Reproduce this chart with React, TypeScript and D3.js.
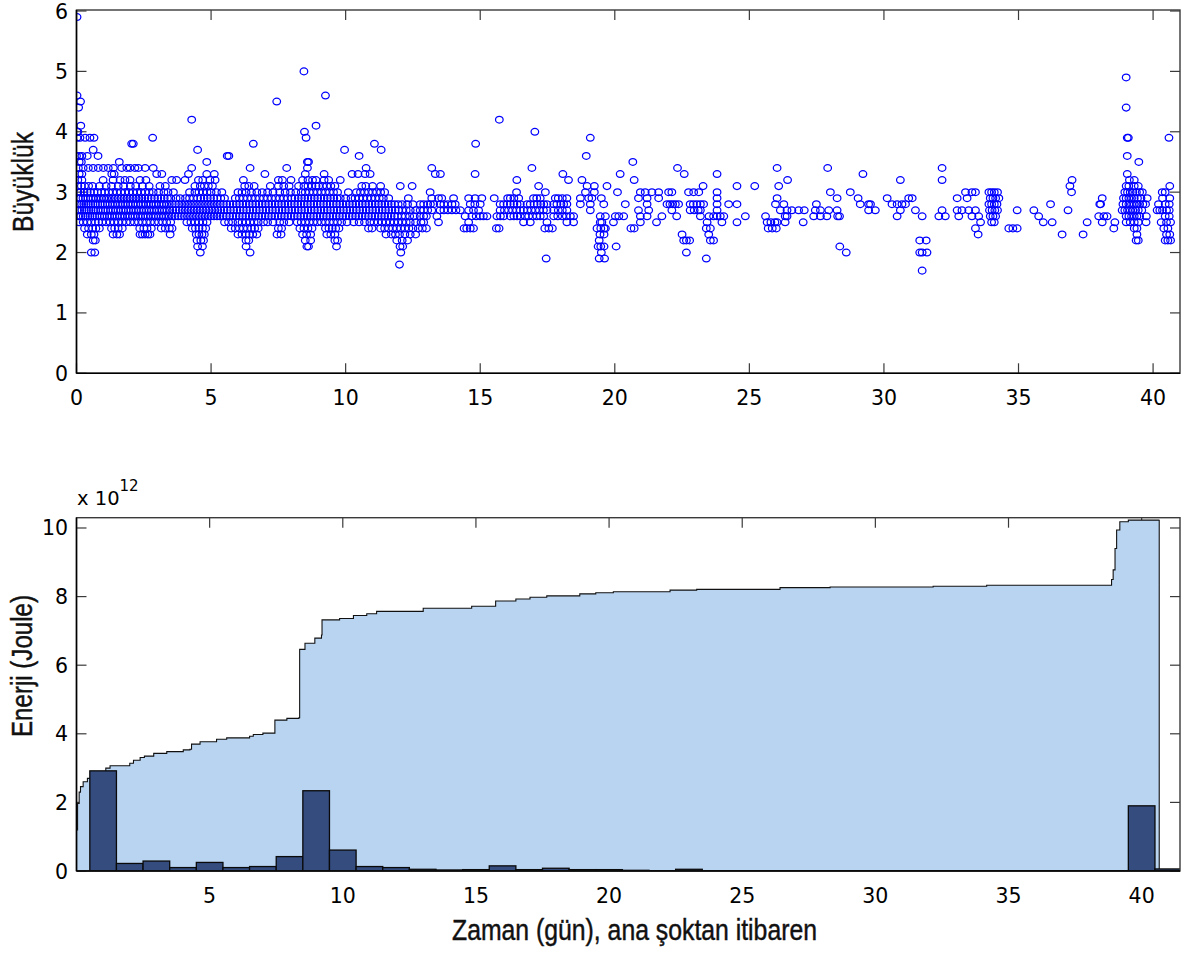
import React from "react";
import * as d3 from "d3";

// ---------- Top panel: magnitude vs. time (days), grouped by magnitude level ----------
const m17 = [31.42];
const m18 = [12.0];
const m19 = [17.45, 19.42, 19.62, 23.4];
const m20 = [0.55, 0.68, 4.6, 6.45, 12.05, 19.5, 22.66, 28.6, 31.33, 31.42, 31.6];
const m21 = [4.5, 4.68, 6.3, 8.56, 8.62, 9.66, 12.02, 12.12, 19.38, 19.48, 19.6, 20.05, 28.36];
const m22 = [0.62, 0.7, 4.48, 4.62, 4.72, 6.3, 6.4, 8.5, 8.7, 9.6, 9.7, 11.9, 12.1, 12.3, 19.42, 22.56, 22.66, 22.78, 23.55, 23.67, 31.33, 31.57, 39.37, 39.45, 40.45, 40.55, 40.65];
const m23 = [0.4, 0.55, 0.65, 1.36, 1.5, 1.6, 2.36, 2.45, 2.55, 2.65, 2.73, 3.48, 4.45, 4.55, 4.66, 4.75, 6.0, 6.15, 6.3, 6.42, 6.55, 6.7, 7.45, 7.6, 8.4, 8.55, 8.7, 9.3, 9.45, 9.6, 11.5, 11.7, 11.85, 12.0, 12.2, 12.4, 12.6, 19.45, 19.6, 22.5, 23.49, 33.5, 36.62, 37.4, 39.4, 40.5, 40.62];
const m24 = [0.3, 0.45, 0.6, 0.72, 0.85, 1.3, 1.42, 1.55, 1.7, 2.35, 2.5, 2.62, 2.78, 3.15, 3.3, 3.45, 3.55, 4.3, 4.42, 4.55, 4.68, 4.8, 5.75, 5.9, 6.05, 6.2, 6.35, 6.5, 6.62, 6.75, 7.5, 7.62, 8.3, 8.45, 8.6, 8.75, 9.25, 9.38, 9.5, 9.63, 9.75, 10.85, 10.98, 11.3, 11.45, 11.6, 11.75, 11.9, 12.05, 12.2, 12.35, 12.5, 12.7, 12.85, 13.0, 14.4, 14.5, 14.63, 14.75, 15.6, 15.7, 17.4, 17.55, 17.68, 19.34, 19.48, 19.6, 19.65, 20.6, 20.72, 23.4, 23.55, 25.7, 25.85, 26.0, 33.4, 34.64, 34.79, 34.95, 38.54, 39.3, 39.4, 40.4, 40.55];
const m25 = [0.1, 0.25, 0.4, 0.55, 0.7, 0.82, 0.95, 1.1, 1.25, 1.4, 1.55, 1.7, 1.85, 2.0, 2.15, 2.3, 2.45, 2.6, 2.75, 2.9, 3.05, 3.2, 3.35, 3.5, 4.1, 4.25, 4.4, 4.55, 4.7, 4.85, 5.5, 5.65, 5.8, 6.0, 6.15, 6.3, 6.45, 6.6, 6.75, 6.95, 7.1, 7.3, 7.55, 7.7, 7.9, 8.2, 8.35, 8.5, 8.65, 8.8, 8.95, 9.1, 9.25, 9.4, 9.55, 9.7, 9.85, 10.05, 10.3, 10.5, 10.7, 10.9, 11.05, 11.2, 11.35, 11.5, 11.65, 11.8, 11.95, 12.1, 12.25, 12.4, 12.6, 12.8, 12.9, 13.45, 14.57, 16.61, 16.86, 17.48, 18.22, 18.47, 19.46, 19.52, 19.95, 20.95, 21.55, 23.43, 23.98, 24.54, 25.66, 25.8, 25.95, 26.03, 26.33, 27.0, 33.59, 34.0, 34.1, 35.92, 36.25, 37.55, 38.11, 38.58, 39.0, 39.15, 39.3, 39.45, 39.74, 40.3, 40.5, 40.65];
const m26 = [0.08, 0.16, 0.25, 0.33, 0.42, 0.5, 0.59, 0.68, 0.76, 0.86, 0.95, 1.04, 1.14, 1.23, 1.32, 1.42, 1.51, 1.61, 1.7, 1.8, 1.9, 1.99, 2.09, 2.18, 2.28, 2.38, 2.47, 2.57, 2.66, 2.76, 2.86, 2.95, 3.05, 3.15, 3.24, 3.34, 3.44, 3.55, 3.66, 3.78, 3.9, 4.01, 4.12, 4.23, 4.34, 4.45, 4.56, 4.67, 4.78, 4.89, 5.0, 5.11, 5.22, 5.33, 5.45, 5.57, 5.69, 5.81, 5.93, 6.05, 6.17, 6.29, 6.41, 6.53, 6.65, 6.77, 6.89, 7.01, 7.13, 7.25, 7.37, 7.49, 7.61, 7.73, 7.85, 7.97, 8.09, 8.21, 8.33, 8.45, 8.57, 8.69, 8.81, 8.93, 9.05, 9.17, 9.29, 9.41, 9.53, 9.65, 9.77, 9.89, 10.01, 10.13, 10.25, 10.37, 10.49, 10.61, 10.73, 10.85, 10.97, 11.09, 11.21, 11.33, 11.45, 11.57, 11.69, 11.81, 11.93, 12.08, 12.22, 12.38, 12.55, 12.77, 12.9, 13.0, 13.39, 14.44, 14.69, 14.85, 15.0, 15.12, 15.25, 15.62, 15.75, 15.87, 16.12, 16.25, 16.37, 16.49, 16.67, 16.8, 16.95, 17.1, 17.23, 17.36, 17.73, 17.88, 18.05, 18.2, 18.35, 18.47, 19.46, 19.65, 20.02, 20.15, 20.33, 20.95, 21.2, 21.75, 22.3, 23.18, 23.5, 23.67, 23.8, 23.92, 24.05, 24.85, 25.6, 26.33, 26.4, 27.39, 27.64, 27.88, 28.28, 28.35, 30.49, 31.42, 32.04, 32.28, 32.78, 33.27, 33.52, 33.95, 34.05, 34.15, 35.75, 37.98, 38.17, 38.29, 39.0, 39.1, 39.2, 39.3, 39.4, 39.5, 39.75, 40.45, 40.6];
const m27 = [0.04, 0.12, 0.2, 0.29, 0.37, 0.46, 0.54, 0.63, 0.71, 0.8, 0.9, 0.99, 1.08, 1.17, 1.27, 1.36, 1.46, 1.55, 1.65, 1.74, 1.84, 1.93, 2.03, 2.12, 2.22, 2.31, 2.41, 2.5, 2.6, 2.7, 2.79, 2.89, 2.98, 3.08, 3.18, 3.27, 3.37, 3.47, 3.58, 3.7, 3.82, 3.93, 4.04, 4.15, 4.26, 4.37, 4.48, 4.59, 4.7, 4.81, 4.92, 5.03, 5.14, 5.25, 5.36, 5.48, 5.6, 5.72, 5.84, 5.96, 6.08, 6.2, 6.32, 6.44, 6.56, 6.68, 6.8, 6.92, 7.04, 7.16, 7.28, 7.4, 7.52, 7.64, 7.76, 7.88, 8.0, 8.12, 8.24, 8.36, 8.48, 8.6, 8.72, 8.84, 8.96, 9.08, 9.2, 9.32, 9.44, 9.56, 9.68, 9.8, 9.92, 10.04, 10.16, 10.28, 10.4, 10.52, 10.64, 10.76, 10.88, 11.0, 11.12, 11.24, 11.36, 11.48, 11.6, 11.72, 11.84, 11.96, 12.1, 12.25, 12.4, 12.6, 12.77, 12.9, 13.05, 13.2, 13.51, 13.65, 13.8, 13.95, 14.1, 14.26, 14.57, 14.75, 14.94, 15.74, 15.9, 16.05, 16.2, 16.35, 16.49, 16.61, 16.75, 16.9, 17.05, 17.2, 17.35, 17.48, 17.73, 17.9, 18.05, 18.22, 19.09, 20.88, 21.26, 22.12, 22.8, 22.95, 23.1, 23.18, 23.8, 26.15, 26.4, 26.58, 26.83, 27.04, 27.45, 27.64, 27.95, 28.26, 29.43, 29.68, 30.61, 31.17, 32.16, 32.72, 32.9, 33.15, 33.4, 33.92, 34.02, 34.12, 34.22, 34.95, 35.57, 36.84, 38.85, 38.95, 39.05, 39.15, 39.25, 39.35, 39.45, 39.58, 40.15, 40.25, 40.35, 40.5, 40.6];
const m28 = [0.03, 0.11, 0.19, 0.27, 0.36, 0.44, 0.53, 0.61, 0.7, 0.79, 0.88, 0.97, 1.06, 1.15, 1.25, 1.34, 1.44, 1.53, 1.63, 1.72, 1.82, 1.91, 2.01, 2.1, 2.2, 2.29, 2.39, 2.48, 2.58, 2.68, 2.77, 2.87, 2.96, 3.06, 3.16, 3.25, 3.35, 3.45, 3.56, 3.68, 3.8, 3.91, 4.02, 4.13, 4.24, 4.35, 4.46, 4.57, 4.68, 4.79, 4.9, 5.01, 5.12, 5.23, 5.34, 5.46, 5.58, 5.7, 5.82, 5.94, 6.06, 6.18, 6.3, 6.42, 6.54, 6.66, 6.78, 6.9, 7.02, 7.14, 7.26, 7.38, 7.5, 7.62, 7.74, 7.86, 7.98, 8.1, 8.22, 8.34, 8.46, 8.58, 8.7, 8.82, 8.94, 9.06, 9.18, 9.3, 9.42, 9.54, 9.66, 9.78, 9.9, 10.02, 10.14, 10.26, 10.38, 10.5, 10.62, 10.74, 10.86, 10.98, 11.1, 11.22, 11.34, 11.46, 11.58, 11.7, 11.82, 11.95, 12.1, 12.3, 12.5, 12.77, 12.9, 13.05, 13.15, 13.27, 13.51, 13.65, 13.8, 13.95, 14.07, 14.63, 14.8, 15.0, 15.74, 15.87, 16.0, 16.12, 16.25, 16.37, 16.49, 16.74, 16.86, 17.0, 17.12, 17.25, 17.36, 17.48, 17.73, 17.85, 18.0, 18.1, 18.22, 18.72, 19.09, 19.59, 20.39, 21.2, 21.94, 22.05, 22.15, 22.25, 22.37, 22.8, 22.92, 23.05, 23.18, 23.3, 23.8, 24.23, 24.54, 25.97, 26.28, 27.49, 29.12, 29.43, 29.5, 30.3, 30.49, 30.67, 30.8, 33.9, 34.0, 34.1, 34.2, 36.19, 38.02, 38.05, 38.88, 39.0, 39.1, 39.2, 39.3, 39.4, 39.5, 39.62, 39.72, 40.2, 40.45, 40.6];
const m29 = [0.06, 0.15, 0.24, 0.34, 0.43, 0.53, 0.62, 0.72, 0.82, 0.92, 1.02, 1.12, 1.22, 1.33, 1.44, 1.55, 1.66, 1.77, 1.88, 1.99, 2.1, 2.21, 2.32, 2.43, 2.54, 2.66, 2.78, 2.9, 3.02, 3.14, 3.26, 3.38, 3.5, 3.7, 3.85, 4.05, 4.2, 4.35, 4.5, 4.62, 4.74, 4.86, 4.98, 5.1, 5.22, 5.36, 5.5, 5.9, 6.05, 6.2, 6.35, 6.5, 6.65, 6.8, 6.95, 7.1, 7.25, 7.4, 7.55, 7.7, 7.85, 8.0, 8.12, 8.24, 8.36, 8.48, 8.6, 8.72, 8.84, 8.96, 9.08, 9.2, 9.32, 9.44, 9.56, 9.68, 9.8, 10.0, 10.2, 10.35, 10.5, 10.65, 10.8, 10.95, 11.1, 11.25, 11.4, 11.6, 12.33, 13.2, 13.45, 13.57, 14.01, 14.57, 14.81, 15.06, 15.52, 16.02, 16.12, 16.25, 16.43, 16.98, 17.1, 17.23, 17.79, 17.9, 18.05, 18.22, 18.72, 19.03, 19.15, 19.5, 20.88, 21.2, 21.63, 23.8, 26.03, 28.26, 29.04, 30.12, 30.92, 31.05, 32.72, 33.09, 33.95, 34.05, 34.15, 34.27, 38.11, 38.9, 39.0, 39.1, 39.2, 39.3, 39.42, 39.55, 39.78, 40.35, 40.62];
const m30 = [0.05, 0.15, 0.28, 0.4, 0.52, 0.65, 0.78, 0.92, 1.05, 1.2, 1.35, 1.5, 1.65, 1.8, 1.95, 2.1, 2.25, 2.4, 2.55, 2.7, 2.85, 3.05, 3.25, 3.4, 3.6, 4.2, 4.4, 4.55, 4.7, 4.85, 5.0, 5.2, 5.4, 6.0, 6.15, 6.3, 6.5, 6.7, 6.9, 7.1, 7.3, 7.55, 7.75, 7.95, 8.15, 8.35, 8.5, 8.65, 8.8, 8.95, 9.1, 9.25, 9.4, 9.55, 9.7, 10.1, 10.4, 10.55, 10.7, 10.85, 11.0, 11.15, 11.3, 11.45, 13.14, 16.35, 17.42, 18.91, 19.24, 20.1, 20.95, 21.13, 21.38, 21.63, 22.0, 22.12, 22.74, 22.93, 23.12, 23.8, 28.01, 28.75, 33.03, 33.27, 33.4, 33.9, 34.0, 34.1, 34.22, 36.97, 38.95, 39.05, 39.15, 39.25, 39.38, 39.5, 39.6, 40.34, 40.45];
const m31 = [0.05, 0.18, 0.3, 0.45, 0.6, 0.85, 1.1, 1.3, 1.55, 1.75, 2.0, 2.2, 2.45, 2.7, 3.1, 3.3, 4.4, 4.6, 4.75, 4.9, 5.05, 6.25, 6.4, 6.6, 7.2, 7.5, 7.7, 7.9, 8.25, 8.45, 8.6, 8.75, 8.9, 9.0, 9.15, 9.3, 9.45, 9.6, 10.6, 10.75, 11.0, 11.3, 12.03, 12.47, 17.17, 18.97, 19.24, 19.71, 23.28, 24.54, 25.2, 26.09, 36.91, 39.0, 39.1, 39.3, 39.45, 40.62];
const m32 = [0.05, 0.2, 0.99, 1.36, 1.62, 1.8, 1.99, 2.36, 2.58, 3.54, 3.72, 4.03, 4.53, 4.69, 4.96, 5.15, 6.2, 7.5, 7.65, 7.97, 8.4, 8.6, 8.77, 8.9, 9.2, 9.37, 9.8, 16.36, 18.28, 18.78, 20.72, 26.42, 30.61, 32.16, 36.99, 39.12, 39.3];
const m33 = [0.1, 0.2, 1.31, 1.4, 2.98, 3.17, 4.16, 4.84, 5.12, 7.0, 8.5, 9.2, 10.24, 10.46, 10.72, 10.91, 13.33, 13.52, 14.81, 18.07, 20.2, 22.58, 23.8, 29.22, 39.04];
const m34 = [0.07, 0.25, 0.44, 0.62, 0.81, 1.0, 1.18, 1.37, 1.68, 1.87, 1.99, 2.17, 2.3, 2.55, 2.85, 4.28, 6.45, 7.81, 8.58, 10.76, 13.2, 16.92, 22.33, 26.03, 27.91, 32.16];
const m35 = [0.1, 0.18, 1.59, 4.84, 8.58, 8.62, 20.67, 39.47];
const m36 = [0.0, 0.1, 0.2, 0.4, 0.8, 5.6, 5.66, 10.5, 18.94, 39.04];
const m37 = [0.62, 4.5, 9.96, 11.32];
const m38 = [2.05, 2.11, 6.57, 11.07, 14.83];
const m39 = [0.02, 0.13, 0.32, 0.5, 0.65, 2.83, 8.53, 19.09, 39.04, 39.08, 40.59];
const m40 = [0.02, 0.05, 8.47, 17.03];
const m41 = [0.16, 8.9];
const m42 = [4.28, 15.71];
const m44 = [0.08, 39.0];
const m45 = [0.15, 7.44];
const m46 = [0.02, 9.25];
const m49 = [39.0];
const m50 = [8.45];
const m59 = [0.02];

const magnitudeGroups: [number, number[]][] = [
  [1.7, m17], [1.8, m18], [1.9, m19], [2.0, m20], [2.1, m21], [2.2, m22], [2.3, m23],
  [2.4, m24], [2.5, m25], [2.6, m26], [2.7, m27], [2.8, m28], [2.9, m29], [3.0, m30],
  [3.1, m31], [3.2, m32], [3.3, m33], [3.4, m34], [3.5, m35], [3.6, m36], [3.7, m37],
  [3.8, m38], [3.9, m39], [4.0, m40], [4.1, m41], [4.2, m42], [4.4, m44], [4.5, m45],
  [4.6, m46], [4.9, m49], [5.0, m50], [5.9, m59],
];

// ---------- Bottom panel: cumulative energy (x10^12 J) and daily energy histogram ----------
const cumDays = [0, 0.04, 0.1, 0.15, 0.25, 0.41, 0.6, 0.88, 1.1, 1.26, 2.0, 2.14, 2.39, 2.55, 2.9, 3.39, 4.01, 4.26, 4.32, 4.64, 5.26, 5.64, 6.5, 6.64, 7.0, 7.45, 7.9, 8.35, 8.38, 8.58, 8.95, 9.2, 9.22, 9.88, 10.4, 10.9, 11.27, 13.02, 14.84, 15.74, 16.5, 17.03, 17.66, 18.9, 19.5, 20.16, 22.29, 23.29, 26.42, 28.3, 32.17, 34.18, 38.87, 38.93, 39.0, 39.06, 39.18, 39.5, 40.66];
const cumEnergy = [1.2, 1.97, 2.3, 2.46, 2.6, 2.7, 2.8, 2.9, 3.0, 3.07, 3.14, 3.23, 3.31, 3.35, 3.43, 3.48, 3.53, 3.55, 3.7, 3.77, 3.84, 3.88, 3.93, 3.98, 4.02, 4.4, 4.45, 4.47, 6.46, 6.64, 6.79, 6.88, 7.32, 7.36, 7.45, 7.5, 7.57, 7.66, 7.72, 7.87, 7.93, 7.98, 8.02, 8.08, 8.11, 8.14, 8.19, 8.21, 8.26, 8.28, 8.3, 8.33, 8.5, 8.78, 9.4, 9.94, 10.18, 10.23, 10.24];

const binDays = [1, 2, 3, 4, 5, 6, 7, 8, 9, 10, 11, 12, 13, 14, 15, 16, 17, 18, 19, 20, 21, 22, 23, 24, 25, 26, 27, 28, 29, 30, 31, 32, 33, 34, 35, 36, 37, 38, 39, 40, 41];
const binEnergy = [2.92, 0.22, 0.29, 0.1, 0.25, 0.1, 0.13, 0.42, 2.34, 0.61, 0.13, 0.1, 0.05, 0.03, 0.04, 0.15, 0.04, 0.08, 0.04, 0.04, 0.02, 0.01, 0.05, 0.01, 0.01, 0.01, 0.01, 0.01, 0.01, 0.01, 0.01, 0.01, 0.01, 0.01, 0.01, 0.01, 0.01, 0.01, 0.01, 1.9, 0.06];

const topXTicks = [0, 5, 10, 15, 20, 25, 30, 35, 40];
const topYTicks = [0, 1, 2, 3, 4, 5, 6];
const bottomXTicks = [5, 10, 15, 20, 25, 30, 35, 40];
const bottomYTicks = [0, 2, 4, 6, 8, 10];

const TICK_FONT = "'DejaVu Sans', Verdana, sans-serif";
const TITLE_FONT = "'Liberation Sans', Arial, sans-serif";
const TICK_SIZE = 20.5;

export default function App() {
  // top panel geometry
  const tL = 76.5, tR = 1180, tT = 11, tB = 373.3;
  const xTop = d3.scaleLinear().domain([0, 41]).range([tL, tR]);
  const yTop = d3.scaleLinear().domain([0, 6]).range([tB, tT]);

  // bottom panel geometry
  const bL = 76.5, bR = 1180, bT = 517.7, bB = 871;
  const xBot = d3.scaleLinear().domain([0, 41.44]).range([bL, bR]);
  const yBot = d3.scaleLinear().domain([0, 10.3]).range([bB, bT]);

  const points: { t: number; m: number }[] = [];
  magnitudeGroups.forEach(([m, days]) => days.forEach((t) => points.push({ t, m })));

  const cum = cumDays.map((d, i) => ({ d, e: cumEnergy[i] }));
  const area = d3
    .area<{ d: number; e: number }>()
    .x((p) => xBot(p.d))
    .y0(yBot(0))
    .y1((p) => yBot(p.e))
    .curve(d3.curveStepAfter);
  const areaPath = area(cum) || "";

  const tick = 10;
  const frame = "#3a3a3a";
  const titleProps = {
    fontFamily: TITLE_FONT,
    fontSize: 29.5,
    fill: "#111",
    stroke: "#111",
    strokeWidth: 0.45,
    lengthAdjust: "spacingAndGlyphs" as const,
  };

  return (
    <svg
      width={1186}
      height={956}
      style={{ position: "absolute", left: 0, top: 0, background: "#fff" }}
      xmlns="http://www.w3.org/2000/svg"
    >
      <defs>
        <clipPath id="clipTop">
          <rect x={tL} y={tT - 6} width={tR - tL} height={tB - tT + 6} />
        </clipPath>
        <clipPath id="clipBot">
          <rect x={bL} y={bT} width={bR - bL} height={bB - bT} />
        </clipPath>
      </defs>

      {/* ======== TOP PANEL ======== */}
      <rect x={tL} y={tT - 1} width={tR - tL} height={tB - tT + 1} fill="#fff" />
      {topXTicks.map((v) => (
        <g key={"txt" + v}>
          <line x1={xTop(v)} x2={xTop(v)} y1={tB} y2={tB - tick} stroke={frame} strokeWidth={1.2} />
          <line x1={xTop(v)} x2={xTop(v)} y1={tT - 1} y2={tT - 1 + tick} stroke={frame} strokeWidth={1.2} />
          <text x={xTop(v)} y={404.5} textAnchor="middle" fontFamily={TICK_FONT} fontSize={TICK_SIZE} fill="#000">
            {v}
          </text>
        </g>
      ))}
      {topYTicks.map((v) => (
        <g key={"tyt" + v}>
          <line x1={tL} x2={tL + tick} y1={yTop(v)} y2={yTop(v)} stroke={frame} strokeWidth={1.2} />
          <line x1={tR} x2={tR - tick} y1={yTop(v)} y2={yTop(v)} stroke={frame} strokeWidth={1.2} />
          <text x={68} y={yTop(v) + 7.5} textAnchor="end" fontFamily={TICK_FONT} fontSize={TICK_SIZE} fill="#000">
            {v}
          </text>
        </g>
      ))}
      <g clipPath="url(#clipTop)">
        {points.map((p, i) => (
          <ellipse
            key={i}
            cx={xTop(p.t)}
            cy={yTop(p.m)}
            rx={3.8}
            ry={3.4}
            fill="none"
            stroke="#0000ff"
            strokeWidth={1.25}
          />
        ))}
      </g>
      <rect x={tL} y={tT - 1} width={tR - tL} height={tB - tT + 1} fill="none" stroke={frame} strokeWidth={1.4} />
      <line x1={tL} x2={tL} y1={tT - 1} y2={tB} stroke="#000" strokeWidth={1.5} />
      <line x1={tL} x2={tR} y1={tB} y2={tB} stroke="#000" strokeWidth={1.5} />
      <text transform={`translate(33,182) rotate(-90)`} textAnchor="middle" textLength={100} {...titleProps}>
        Büyüklük
      </text>

      {/* ======== BOTTOM PANEL ======== */}
      {bottomXTicks.map((v) => (
        <g key={"bxt" + v}>
          <line x1={xBot(v)} x2={xBot(v)} y1={bT} y2={bT + tick} stroke={frame} strokeWidth={1.2} />
          <line x1={xBot(v)} x2={xBot(v)} y1={bB} y2={bB - tick} stroke={frame} strokeWidth={1.2} />
          <text x={xBot(v)} y={902.5} textAnchor="middle" fontFamily={TICK_FONT} fontSize={TICK_SIZE} fill="#000">
            {v}
          </text>
        </g>
      ))}
      {bottomYTicks.map((v) => (
        <g key={"byt" + v}>
          <line x1={bL} x2={bL + tick} y1={yBot(v)} y2={yBot(v)} stroke={frame} strokeWidth={1.2} />
          <line x1={bR} x2={bR - tick} y1={yBot(v)} y2={yBot(v)} stroke={frame} strokeWidth={1.2} />
          <text x={68} y={yBot(v) + 7.5} textAnchor="end" fontFamily={TICK_FONT} fontSize={TICK_SIZE} fill="#000">
            {v}
          </text>
        </g>
      ))}
      <g clipPath="url(#clipBot)">
        <path d={areaPath} fill="#b9d4f1" stroke="#111" strokeWidth={1.1} />
        {binDays.map((c, i) => (
          <rect
            key={"bin" + c}
            x={xBot(c - 0.5)}
            y={yBot(binEnergy[i])}
            width={xBot(c + 0.5) - xBot(c - 0.5)}
            height={yBot(0) - yBot(binEnergy[i])}
            fill="#344c7e"
            stroke="#0a0a0a"
            strokeWidth={1.3}
          />
        ))}
      </g>
      <rect x={bL} y={bT} width={bR - bL} height={bB - bT} fill="none" stroke={frame} strokeWidth={1.4} />
      <line x1={bL} x2={bL} y1={bT} y2={bB} stroke="#000" strokeWidth={1.5} />
      <line x1={bL} x2={bR} y1={bB} y2={bB} stroke="#000" strokeWidth={1.5} />
      <text x={77} y={505} fontFamily={TICK_FONT} fontSize={19.5} fill="#000">
        x 10
        <tspan dy={-14} fontSize={15}>
          12
        </tspan>
      </text>
      <text transform={`translate(32,666) rotate(-90)`} textAnchor="middle" textLength={142} {...titleProps}>
        Enerji (Joule)
      </text>
      <text x={634.5} y={940} textAnchor="middle" textLength={365} {...titleProps}>
        Zaman (gün), ana şoktan itibaren
      </text>
    </svg>
  );
}
